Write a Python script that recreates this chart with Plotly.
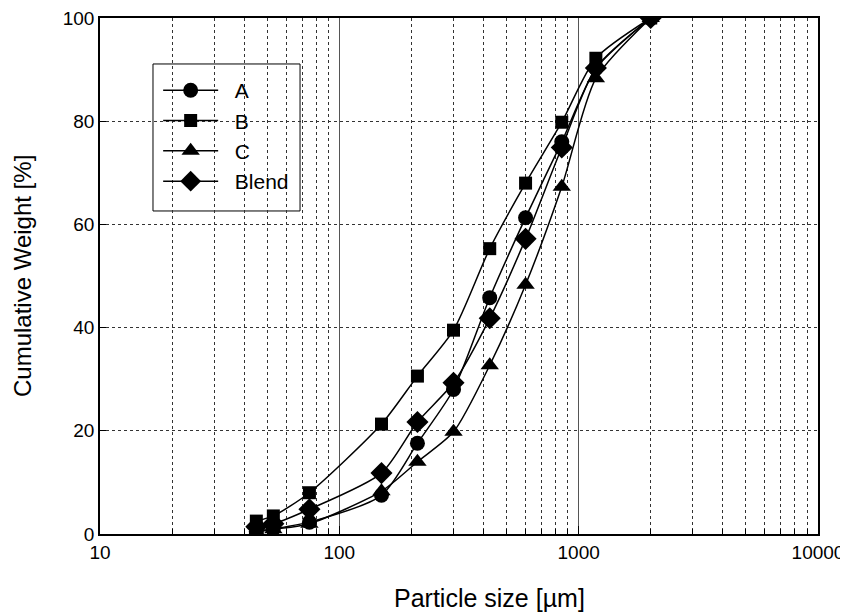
import plotly.graph_objects as go

sizes = [45, 53, 75, 150, 212, 300, 425, 600, 850, 1180, 2000]
series_names = ["A", "B", "C", "Blend"]
a_vals = [0.5, 1.0, 2.3, 7.5, 17.6, 28.0, 45.8, 61.3, 76.0, 90.2, 100]
b_vals = [2.5, 3.5, 8.0, 21.3, 30.6, 39.5, 55.3, 68.0, 79.8, 92.2, 100]
c_vals = [0.4, 0.9, 2.0, 8.3, 14.0, 19.8, 32.7, 48.3, 67.3, 88.3, 100]
blend_vals = [1.4, 2.0, 4.8, 11.8, 21.7, 29.3, 41.8, 57.2, 74.9, 90.3, 100]
symbols = ["circle", "square", "triangle-up", "diamond"]
msizes = [15, 13, 16, 17]
x_tickvals = [10, 100, 1000, 10000]
x_ticktext = ["10", "100", "1000", "10000"]
minor_tickvals = [m * d for d in (10, 100, 1000) for m in range(2, 10)]
x_title = "Particle size [µm]"
y_title = "Cumulative Weight [%]"

fig = go.Figure()
for name, vals, sym, ms in zip(series_names, [a_vals, b_vals, c_vals, blend_vals], symbols, msizes):
    fig.add_trace(go.Scatter(
        x=sizes, y=vals, name="\u00a0\u00a0" + name, mode="lines+markers",
        line=dict(color="black", width=1.5, shape="spline", smoothing=0.7),
        marker=dict(symbol=sym, size=ms, color="black"),
    ))

font_family = "Liberation Sans, Arial, sans-serif"
# page body has an 8px margin, so the figure is sized/margined to compensate
fig.update_layout(
    width=840, height=607,
    margin=dict(l=92, r=30, t=10, b=81),
    plot_bgcolor="white", paper_bgcolor="white",
    font=dict(family=font_family, size=19, color="black"),
    showlegend=True,
    legend=dict(
        x=0.081, y=0.899, xanchor="left", yanchor="top",
        borderwidth=0, bgcolor="rgba(0,0,0,0)",
        font=dict(size=21), itemwidth=55, tracegroupgap=0,
    ),
    shapes=[dict(type="rect", xref="paper", yref="paper",
                 x0=0.0738, x1=0.2786, y0=0.626, y1=0.9109,
                 line=dict(color="black", width=1), fillcolor="white", layer="below")],
    annotations=[
        dict(text=x_title, xref="paper", yref="paper", x=0.542, y=-0.124,
             showarrow=False, font=dict(size=25), xanchor="center", yanchor="middle"),
        dict(text=y_title, xref="paper", yref="paper", x=-0.1086, y=0.5,
             showarrow=False, font=dict(size=24), textangle=-90,
             xanchor="center", yanchor="middle"),
    ],
    xaxis=dict(
        type="log", range=[1, 4], automargin=False, ticklabeloverflow="allow",
        tickvals=x_tickvals, ticktext=x_ticktext,
        showline=True, linecolor="black", linewidth=1.5, mirror=True,
        ticks="inside", ticklen=8, tickcolor="black",
        showgrid=True, gridcolor="#555555", gridwidth=1,
        minor=dict(tickvals=minor_tickvals, ticks="inside", ticklen=5, tickcolor="black",
                   showgrid=True, gridcolor="#333333", griddash="dot", gridwidth=1),
        zeroline=False,
    ),
    yaxis=dict(
        range=[0, 100], dtick=20, automargin=False, ticklabeloverflow="allow",
        showline=True, linecolor="black", linewidth=1.5, mirror=True,
        ticks="inside", ticklen=6, tickcolor="black",
        showgrid=True, gridcolor="#333333", griddash="dot", gridwidth=1,
        zeroline=False,
    ),
)

fig.write_html("out.html")
